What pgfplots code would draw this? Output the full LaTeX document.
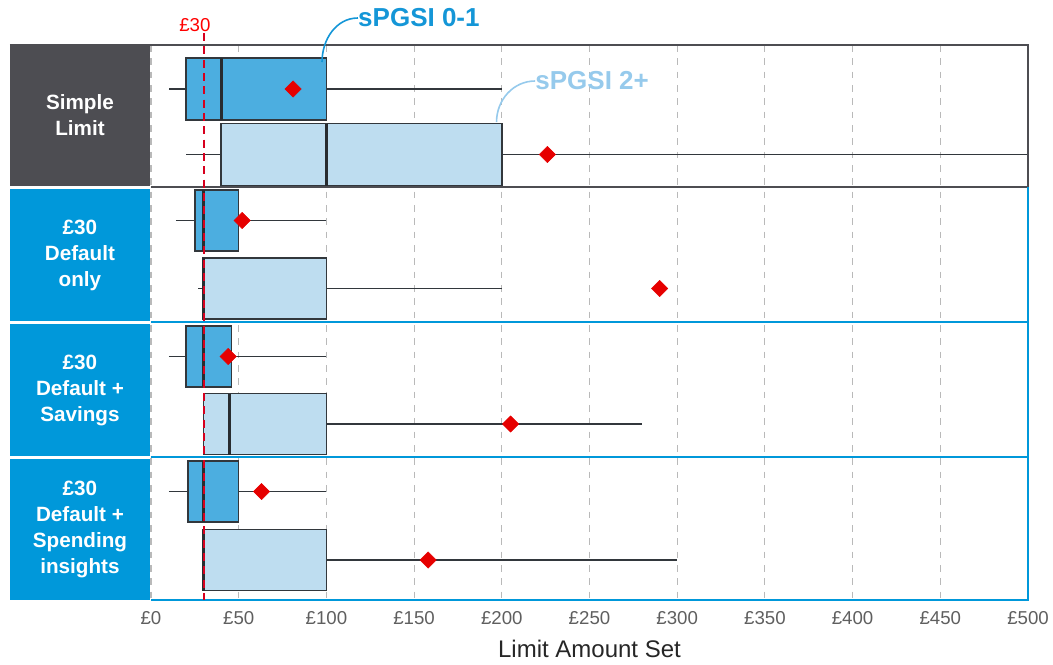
\documentclass[border=0pt]{standalone}
\usepackage{fontspec}
\setmainfont{Liberation Sans}
\usepackage{pgfplots}
\pgfplotsset{compat=1.18}
\usepgfplotslibrary{statistics}

\definecolor{panelgray}{RGB}{77,77,82}
\definecolor{panelblue}{RGB}{0,152,218}
\definecolor{boxdark}{RGB}{76,174,224}
\definecolor{boxlight}{RGB}{190,221,240}
\definecolor{boxline}{RGB}{50,55,60}
\definecolor{meanred}{RGB}{230,0,0}
\definecolor{refred}{RGB}{215,0,30}
\definecolor{ticktext}{RGB}{95,95,95}
\definecolor{anno1}{RGB}{20,150,215}
\definecolor{anno2}{RGB}{150,202,236}

\begin{document}
\begin{tikzpicture}
\begin{axis}[
  scale only axis,
  width=657.75pt, height=416.25pt,
  xmin=0, xmax=500, ymin=45, ymax=600, % y in pixel rows of the layout
  y dir=reverse,
  axis line style={draw=none},
  xtick={0,50,...,500},
  xticklabels={£0,£50,£100,£150,£200,£250,£300,£350,£400,£450,£500},
  xticklabel style={font=\fontsize{14}{16}\selectfont, text=ticktext, yshift=-5pt},
  ytick=\empty,
  major tick length=0pt,
  xmajorgrids,
  grid style={line width=0.8pt, color=gray!55, dash pattern=on 5pt off 5pt},
  clip mode=individual,
  boxplot/whisker extend=0,
  boxplot/every box/.style={draw=boxline, line width=1.1pt},
  boxplot/every whisker/.style={draw=boxline, line width=1.2pt},
  boxplot/every median/.style={draw=boxline!80!black, line width=2.2pt},
]

% panel labels
\fill[panelgray] (axis cs:-80.4,45) rectangle (axis cs:-0.6,186);
\fill[panelblue] (axis cs:-80.4,189) rectangle (axis cs:-0.6,321);
\fill[panelblue] (axis cs:-80.4,324) rectangle (axis cs:-0.6,456);
\fill[panelblue] (axis cs:-80.4,459) rectangle (axis cs:-0.6,600);
\begin{scope}[every node/.style={text=white, align=center,
    font=\bfseries\fontsize{15.5}{19.5}\selectfont}]
\node at (axis cs:-40.5,115.5) {Simple\\Limit};
\node at (axis cs:-40.5,255) {£30\\Default\\only};
\node at (axis cs:-40.5,390) {£30\\Default +\\Savings};
\node at (axis cs:-40.5,529.5) {£30\\Default +\\Spending\\insights};
\end{scope}

% Simple limit
\addplot[fill=boxdark, boxplot prepared={draw position=89, box extend=62,
  lower whisker=10, lower quartile=20, median=40, upper quartile=100, upper whisker=200}]
  coordinates {};
\addplot[fill=boxlight, boxplot prepared={draw position=154.5, box extend=62,
  lower whisker=20, lower quartile=40, median=100, upper quartile=200, upper whisker=520}]
  coordinates {};
% GBP30 default only
\addplot[fill=boxdark, boxplot prepared={draw position=220.5, box extend=61,
  lower whisker=14, lower quartile=25, median=30, upper quartile=50, upper whisker=100}]
  coordinates {};
\addplot[fill=boxlight, boxplot prepared={draw position=288.5, box extend=61,
  lower whisker=27, lower quartile=29.5, median=30, upper quartile=100, upper whisker=200}]
  coordinates {};
% GBP30 default + savings
\addplot[fill=boxdark, boxplot prepared={draw position=356.5, box extend=61,
  lower whisker=10, lower quartile=20, median=30, upper quartile=46, upper whisker=100}]
  coordinates {};
\addplot[fill=boxlight, boxplot prepared={draw position=424, box extend=61,
  lower whisker=30, lower quartile=30, median=45, upper quartile=100, upper whisker=280}]
  coordinates {};
% GBP30 default + spending insights
\addplot[fill=boxdark, boxplot prepared={draw position=491.5, box extend=61,
  lower whisker=10, lower quartile=21, median=30, upper quartile=50, upper whisker=100}]
  coordinates {};
\addplot[fill=boxlight, boxplot prepared={draw position=560, box extend=61,
  lower whisker=29, lower quartile=29.5, median=30, upper quartile=100, upper whisker=300}]
  coordinates {};

% means
\addplot[only marks, mark=square*, mark size=4.3pt, mark options={rotate=45},
  color=meanred] coordinates {
  (81,89) (226,154.5) (52,220.5) (290,288.5)
  (44,356.5) (205,424) (63,491.5) (158,560)
};

% panel borders
\draw[panelgray, line width=1.3pt] (axis cs:-80.4,45) -- (axis cs:500,45)
  -- (axis cs:500,187) -- (axis cs:0,187);
\draw[panelblue, line width=1.3pt] (axis cs:500,187) -- (axis cs:500,600) -- (axis cs:0,600);
\draw[panelblue, line width=1.3pt] (axis cs:0,322) -- (axis cs:500,322);
\draw[panelblue, line width=1.3pt] (axis cs:0,457) -- (axis cs:500,457);

% 30 pound default line
\draw[draw=refred, line width=1.6pt, dash pattern=on 6pt off 4pt] (axis cs:30,33) -- (axis cs:30,600);
\node[text=red, font=\fontsize{14}{16}\selectfont] at (axis cs:25,25) {£30};

% series callouts
\draw[anno1, line width=1.2pt] (axis cs:97.5,62) to[out=90,in=180] (axis cs:118,18);
\node[anchor=west, inner sep=0pt, text=anno1, font=\bfseries\fontsize{19.5}{22}\selectfont]
  at (axis cs:118,18) {sPGSI 0-1};
\draw[anno2, line width=1.2pt] (axis cs:197,122) to[out=90,in=180] (axis cs:219,81);
\node[anchor=west, inner sep=0pt, text=anno2, font=\bfseries\fontsize{19.5}{22}\selectfont]
  at (axis cs:219,81) {sPGSI 2+};

\node[text=black!85, font=\fontsize{18}{21}\selectfont] at ([yshift=-37pt]axis cs:250,600) {Limit Amount Set};

\coordinate (TL) at (axis cs:0,45);
\coordinate (BR) at (axis cs:500,600);
\end{axis}
\pgfresetboundingbox
\useasboundingbox ([shift={(-113.25pt,33.75pt)}]TL) rectangle ([shift={(18.75pt,-48pt)}]BR);
\end{tikzpicture}
\end{document}
